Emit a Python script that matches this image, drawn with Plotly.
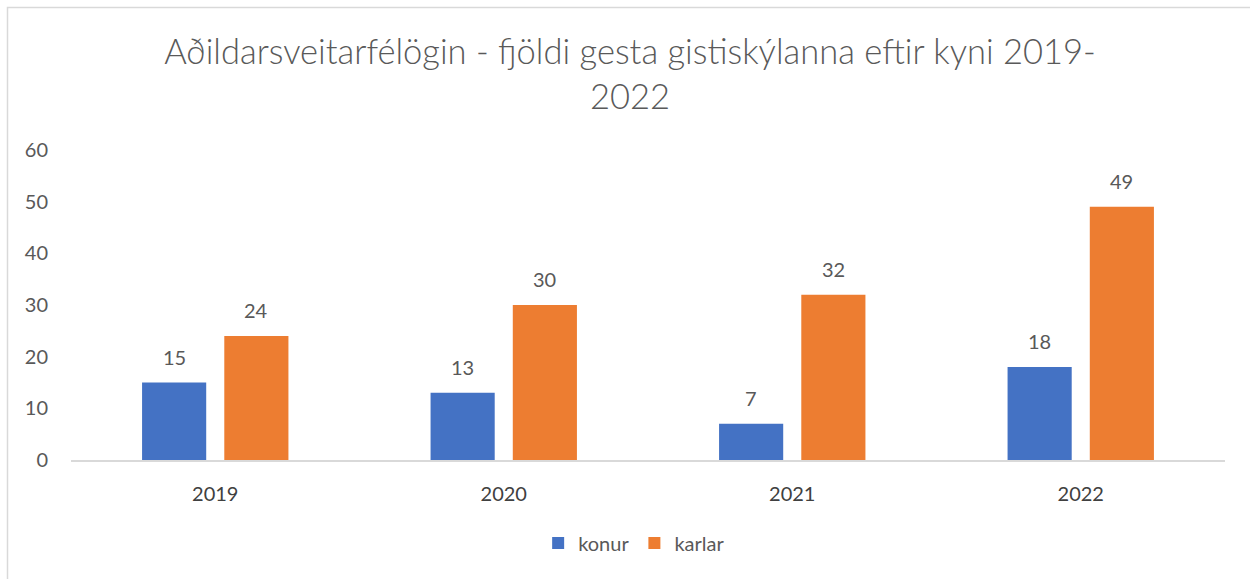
import plotly.graph_objects as go

years = ["2019", "2020", "2021", "2022"]
konur = [15, 13, 7, 18]
karlar = [24, 30, 32, 49]
series_names = ["konur", "karlar"]
colors = ["#4472C4", "#ED7D31"]
title_text = "Aðildarsveitarfélögin - fjöldi gesta gistiskýlanna eftir kyni 2019-<br>2022"
y_ticks = [0, 10, 20, 30, 40, 50, 60]

FONT = "Lato"
GREY = "#595959"

fig = go.Figure()
for name, vals, col in zip(series_names, [konur, karlar], colors):
    fig.add_trace(go.Bar(
        x=years, y=vals, name=name, marker=dict(color=col, line=dict(width=0)),
    ))

# data labels (category index positions)
for i, vals in enumerate([konur, karlar]):
    for k, v in enumerate(vals):
        fig.add_annotation(
            x=k, y=v, text=str(v), showarrow=False,
            xshift=(-41 if i == 0 else 41), yshift=12, yanchor="bottom",
            font=dict(family=FONT, size=20, color=GREY),
        )

# chart border (left/top visible)
fig.add_shape(type="rect", xref="paper", yref="paper",
              x0=(7.5 - 71) / 1154, x1=(1262 - 71) / 1154,
              y0=(460 - 595) / 310, y1=(460 - 7.5) / 310,
              line=dict(color="#D9D9D9", width=1.5), fillcolor="rgba(0,0,0,0)", layer="below")

fig.update_layout(
    width=1250, height=579,
    margin=dict(l=71, r=25, t=150, b=119, autoexpand=False),
    paper_bgcolor="white", plot_bgcolor="white",
    barmode="group", bargap=0.43, bargroupgap=0.22,
    title=dict(text=title_text, x=0.504, xanchor="center", y=0.89, yanchor="top",
               font=dict(family=FONT, size=34.5, color=GREY, weight=300)),
    xaxis=dict(type="category", range=[-0.5, len(years) - 0.5], autorange=False,
               showgrid=False, showline=True, linecolor="#D9D9D9", linewidth=1.5,
               ticks="", tickfont=dict(family=FONT, size=20, color="#404040"),
               ticklabelstandoff=15, fixedrange=True),
    yaxis=dict(range=[0, 60], autorange=False, tickvals=y_ticks, showgrid=False, zeroline=False,
               showline=False, ticks="", tickfont=dict(family=FONT, size=20, color=GREY),
               ticklabelstandoff=22, fixedrange=True),
    legend=dict(orientation="h", x=0.488, xanchor="center", y=-0.205, yanchor="top",
                font=dict(family=FONT, size=20, color=GREY), itemwidth=30,
                traceorder="normal"),
    showlegend=True,
)

fig.write_html("out.html", config={"displayModeBar": False},
               post_script="document.body.style.margin='0';document.body.style.overflow='hidden';")
